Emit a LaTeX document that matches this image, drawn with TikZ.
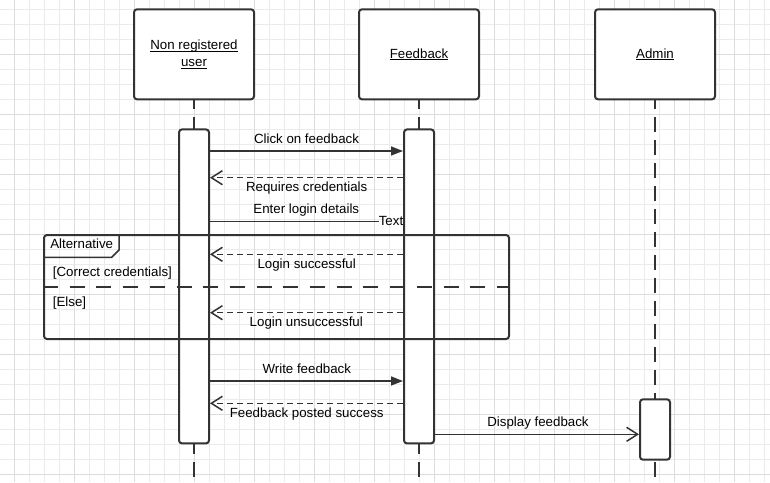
\documentclass[tikz,border=0pt]{standalone}
\usepackage{fontspec}
\setmainfont{Liberation Sans}
\usetikzlibrary{arrows.meta}
\definecolor{ink}{HTML}{333333}
\definecolor{gridminor}{HTML}{EBEBEB}
\definecolor{gridmajor}{HTML}{DCDCDC}

\begin{document}
\begin{tikzpicture}[x=1pt,y=-1pt,
  every node/.style={font=\fontsize{13.3}{17}\selectfont, text=black},
  lifebox/.style={draw=ink, line width=2pt, rounded corners=3pt, fill=white,
    minimum width=120pt, minimum height=90pt, align=center, inner sep=0pt},
  actbox/.style={draw=ink, line width=2pt, rounded corners=3pt, fill=white,
    minimum width=30pt, inner sep=0pt},
  lifeline/.style={draw=ink, line width=2pt, dash pattern=on 15pt off 8pt, dash phase=6pt},
  msg/.style={draw=ink, line width=1.5pt},
  call/.style={msg, -{Triangle[length=12pt,width=9pt]}},
  reply/.style={msg, dash pattern=on 6pt off 4pt, -{Straight Barb[length=11pt,width=14pt]}},
  async/.style={msg, -{Straight Barb[length=11pt,width=14pt]}},
  lbl/.style={inner sep=0pt},
  frame/.style={draw=ink, line width=2pt, rounded corners=3pt, inner sep=0pt},
  tabline/.style={draw=ink, line width=1.5pt},
  separator/.style={draw=ink, line width=2pt, dash pattern=on 15pt off 11.7pt},
]
% canvas and grid paper
\useasboundingbox (0,0) rectangle (770,482);
\fill[white] (0,0) rectangle (770,482);
\foreach \x in {14.3,29.3,...,770} \draw[gridminor, line width=1pt] (\x,0) -- (\x,482);
\foreach \y in {9.3,24.3,...,482} \draw[gridminor, line width=1pt] (0,\y) -- (770,\y);
\foreach \x in {14.3,74.3,...,770} \draw[gridmajor, line width=1pt] (\x,0) -- (\x,482);
\foreach \y in {54.3,114.3,...,482} \draw[gridmajor, line width=1pt] (0,\y) -- (770,\y);

% participants
\node[lifebox] (user) at (194,54.3) {\underbar{Non registered}\\\underbar{user}};
\node[lifebox] (fb) at (419,54.3) {\underbar{Feedback}};
\node[lifebox] (admin) at (655,54.3) {\underbar{Admin}};

% lifelines
\coordinate (userEnd) at (194,482);
\coordinate (fbEnd) at (419,482);
\coordinate (adminEnd) at (655,482);
\draw[lifeline] (user.south) -- (userEnd);
\draw[lifeline] (fb.south) -- (fbEnd);
\draw[lifeline] (admin.south) -- (adminEnd);

% activation bars
\node[actbox, minimum height=314pt] (ua) at (194,286.4) {};
\node[actbox, minimum height=314pt] (fa) at (419,286.4) {};
\node[actbox, minimum height=60.4pt] (aa) at (655,429.5) {};

% alternative fragment
\node[frame, minimum width=465pt, minimum height=104pt] (alt) at (276.5,287) {};
\draw[tabline] (119,235) -- (119,250) -- (111.7,257.3) -- (44,257.3);
\node[lbl] (altname) at (81.7,243.8) {Alternative};
\node[lbl, anchor=west] (guard1) at (52.7,273.2) {[Correct credentials]};
\node[lbl, anchor=west] (guard2) at (52.7,303.2) {[Else]};
\draw[separator] (alt.west |- 0,286.7) -- (alt.east |- 0,286.7);

% messages
\draw[call] (ua.east |- 0,151) -- (fa.west |- 0,151);
\node[lbl] (m1) at (306.5,138.8) {Click on feedback};

\draw[reply] (fa.west |- 0,177.7) -- (ua.east |- 0,177.7);
\node[lbl] (m2) at (306.7,187.8) {Requires credentials};

\node[lbl] (txt) at (391,220.5) {Text};
\draw[msg] (ua.east |- 0,221.7) -- (txt.west |- 0,221.7);
\node[lbl] (m3) at (306.3,209.8) {Enter login details};

\draw[reply] (fa.west |- 0,254.3) -- (ua.east |- 0,254.3);
\node[lbl] (m4) at (306.7,265) {Login successful};

\draw[reply] (fa.west |- 0,312.7) -- (ua.east |- 0,312.7);
\node[lbl] (m5) at (306.3,323.4) {Login unsuccessful};

\draw[call] (ua.east |- 0,381) -- (fa.west |- 0,381);
\node[lbl] (m6) at (306.8,368.8) {Write feedback};

\draw[reply] (fa.west |- 0,403.3) -- (ua.east |- 0,403.3);
\node[lbl] (m7) at (306.7,414) {Feedback posted success};

\draw[async] (fa.east |- 0,434.3) -- (aa.west |- 0,434.3);
\node[lbl] (m8) at (538,422.8) {Display feedback};
\end{tikzpicture}
\end{document}
